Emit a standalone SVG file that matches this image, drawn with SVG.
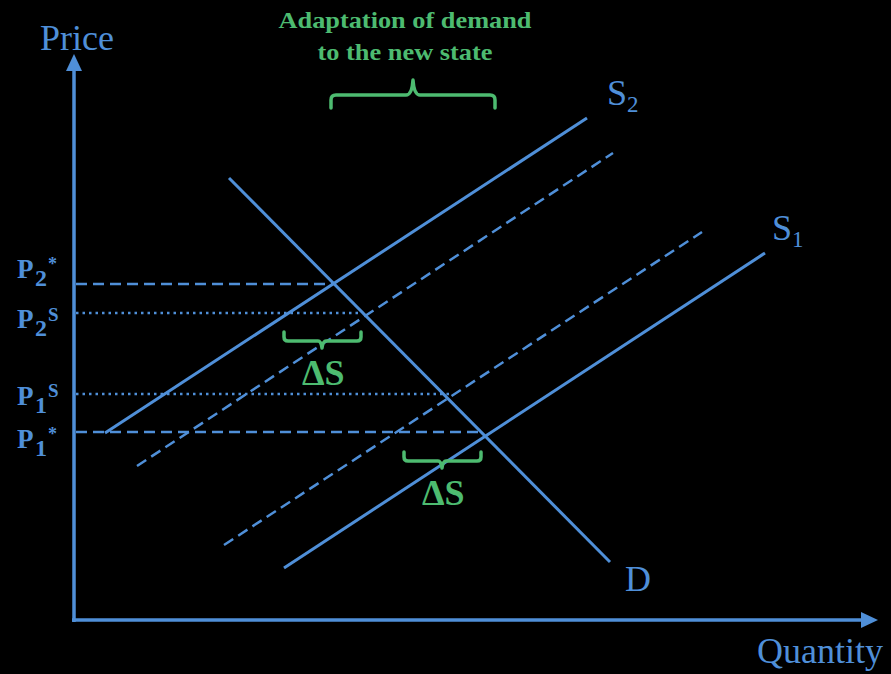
<svg xmlns="http://www.w3.org/2000/svg" width="891" height="674" viewBox="0 0 891 674">
<style>
.bl{stroke:#4f8fd8;fill:none}
.solid{stroke-width:3}
.dash{stroke-width:2.5;stroke-dasharray:11 6}
.dot{stroke-width:2.5;stroke-dasharray:2.5 4}
.gr{stroke:#4dbb70;fill:none;stroke-width:3.5;stroke-linejoin:round;stroke-linecap:round}
.lab{font-family:"Liberation Serif","Times New Roman",serif;fill:#4f8fd8}
.glab{font-family:"Liberation Serif","Times New Roman",serif;fill:#4dbb70;font-weight:bold}
</style>
<rect width="891" height="674" fill="#000"/>
<defs>
<marker id="ah" markerWidth="10" markerHeight="10" refX="0" refY="5" orient="auto" markerUnits="userSpaceOnUse" viewBox="0 0 10 10"><path d="M0,0 L10,5 L0,10 z" fill="#4f8fd8"/></marker>
</defs>
<g id="axes">
<line class="bl" x1="74" y1="622" x2="74" y2="70" stroke-width="3.5"/>
<path d="M66,71 L74,54 L82,71 z" fill="#4f8fd8"/>
<line class="bl" x1="72" y1="620" x2="862" y2="620" stroke-width="3.5"/>
<path d="M861,612 L878,620 L861,628 z" fill="#4f8fd8"/>
<text class="lab" x="40" y="50" font-size="36">Price</text>
<text class="lab" x="757" y="663" font-size="36">Quantity</text>
</g>
<g id="connectors">
<line class="bl dash" x1="76" y1="284" x2="333" y2="284"/>
<line class="bl dot" x1="76" y1="313" x2="362" y2="313"/>
<line class="bl dot" x1="76" y1="394" x2="450" y2="394"/>
<line class="bl dash" x1="76" y1="432" x2="482" y2="432"/>
<line class="bl dash" x1="137" y1="466" x2="613" y2="153"/>
<line class="bl dash" x1="224" y1="545" x2="702" y2="232"/>
</g>
<g id="S2">
<line class="bl solid" x1="105" y1="433" x2="587" y2="118"/>
<text class="lab" x="607" y="105" font-size="36">S</text>
<text class="lab" x="627" y="112" font-size="23">2</text>
</g>
<g id="S1">
<line class="bl solid" x1="284" y1="568" x2="765" y2="253"/>
<text class="lab" x="772" y="240" font-size="36">S</text>
<text class="lab" x="792" y="247" font-size="23">1</text>
</g>
<g id="D">
<line class="bl solid" x1="229" y1="178" x2="610" y2="562"/>
<text class="lab" x="625" y="591" font-size="36">D</text>
</g>
<g id="price-labels" class="lab" font-weight="bold">
<text x="17" y="278" font-size="27">P</text><text x="35" y="286" font-size="24">2</text><text x="48" y="270" font-size="18">*</text>
<text x="17" y="328" font-size="27">P</text><text x="35" y="336" font-size="24">2</text><text x="48" y="321" font-size="19">S</text>
<text x="17" y="405" font-size="27">P</text><text x="35" y="413" font-size="24">1</text><text x="48" y="397" font-size="19">S</text>
<text x="17" y="448" font-size="27">P</text><text x="35" y="456" font-size="24">1</text><text x="48" y="440" font-size="18">*</text>
</g>
<g id="adaptation">
<text class="glab" x="405" y="28" font-size="24" text-anchor="middle" textLength="253" lengthAdjust="spacingAndGlyphs">Adaptation of demand</text>
<text class="glab" x="405" y="60" font-size="24" text-anchor="middle" textLength="175" lengthAdjust="spacingAndGlyphs">to the new state</text>
<path class="gr" d="M331,108 V100 Q331,95 336,95 H406 Q412,95 413,80 Q414,95 420,95 H490 Q495,95 495,100 V108"/>
</g>
<g id="dS1">
<path class="gr" d="M284,332 V337 Q284,341 288,341 H318 Q321,341 322,348 Q323,341 326,341 H357 Q361,341 361,337 V332"/>
<text class="glab" x="302" y="385" font-size="36">ΔS</text>
</g>
<g id="dS2">
<path class="gr" d="M404,452 V457 Q404,461 408,461 H438 Q441,461 442,468 Q443,461 446,461 H477 Q481,461 481,457 V452"/>
<text class="glab" x="422" y="505" font-size="36">ΔS</text>
</g>
</svg>
